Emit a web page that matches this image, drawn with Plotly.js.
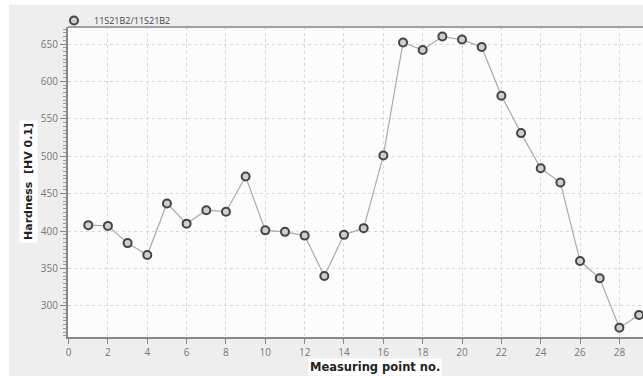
<!DOCTYPE html>
<html>
<head>
<meta charset="utf-8">
<script src="https://cdn.plot.ly/plotly-3.0.1.min.js"></script>
<style>html,body{margin:0;padding:0;background:#ffffff;}#chart{width:643px;height:376px;}</style>
</head>
<body>
<div id="chart"></div>
<script>
const seriesName = "11S21B2/11S21B2";
const measuringPoints = [1,2,3,4,5,6,7,8,9,10,11,12,13,14,15,16,17,18,19,20,21,22,23,24,25,26,27,28,29];
const hardness = [408,407,384,368,437,410,428,426,473,401,399,394,340,395,404,501,652,642,660,656,646,581,531,484,465,360,337,271,288];
const xTickVals = [0,2,4,6,8,10,12,14,16,18,20,22,24,26,28];
const yTickVals = [300,350,400,450,500,550,600,650];
const xTitle = "Measuring point no.";
const yTitle = "Hardness  [HV 0.1]";

const lineTrace = {
  x: measuringPoints,
  y: hardness,
  name: seriesName,
  type: 'scatter',
  mode: 'lines',
  line: {color: '#aaaaaa', width: 1.2},
  showlegend: false,
  legendgroup: 'g'
};
const markerTrace = {
  x: measuringPoints,
  y: hardness,
  name: seriesName,
  type: 'scatter',
  mode: 'markers',
  marker: {symbol: 'circle', size: 8, color: '#cfcfcf', line: {color: '#444444', width: 2}},
  showlegend: true,
  legendgroup: 'g'
};

const W = 575, H = 310; // plot area size in px
function px2x(p){ return (p - 68) / W; }
function py2y(p){ return (337 - p) / H; }

const layout = {
  width: 643, height: 376,
  margin: {l: 68, r: 0, t: 27, b: 39, pad: 0},
  paper_bgcolor: '#eeeeee',
  plot_bgcolor: '#fcfcfc',
  showlegend: true,
  legend: {
    x: px2x(54), y: py2y(6), xanchor: 'left', yanchor: 'top',
    bgcolor: 'rgba(0,0,0,0)', borderwidth: 0,
    font: {family: 'Open Sans, sans-serif', size: 9, color: '#444444'},
    itemwidth: 30
  },
  xaxis: {
    range: [-0.03, 29.2],
    tickvals: xTickVals,
    ticks: 'outside', ticklen: 5, tickcolor: '#888888', tickwidth: 1,
    showline: true, linecolor: '#888888', linewidth: 2,
    showgrid: true, gridcolor: '#d8d8d8', griddash: 'dot', gridwidth: 1,
    zeroline: false,
    tickfont: {family: 'Open Sans, sans-serif', size: 10, color: '#777777'}
  },
  yaxis: {
    range: [258.5, 672.8],
    tickvals: yTickVals,
    ticks: 'outside', ticklen: 6, tickcolor: '#888888', tickwidth: 1,
    minor: {dtick: 5, ticks: 'outside', ticklen: 3, tickcolor: '#999999', showgrid: false},
    showline: true, linecolor: '#888888', linewidth: 2,
    showgrid: true, gridcolor: '#d8d8d8', griddash: 'dot', gridwidth: 1,
    zeroline: false,
    tickfont: {family: 'Open Sans, sans-serif', size: 10, color: '#777777'}
  },
  shapes: [
    {type: 'rect', xref: 'paper', yref: 'paper', x0: px2x(0), x1: px2x(9), y0: py2y(376), y1: py2y(0), fillcolor: '#ffffff', line: {width: 0}, layer: 'below'},
    {type: 'rect', xref: 'paper', yref: 'paper', x0: px2x(0), x1: px2x(643), y0: py2y(5), y1: py2y(0), fillcolor: '#ffffff', line: {width: 0}, layer: 'below'},
    {type: 'line', xref: 'paper', yref: 'paper', x0: 0, x1: 1, y0: 1, y1: 1, line: {color: '#a0a0a0', width: 2}}
  ],
  annotations: [
    {text: '<b>' + yTitle + '</b>', textangle: -90, xref: 'paper', yref: 'paper',
     x: px2x(28), y: py2y(182), xanchor: 'center', yanchor: 'middle', showarrow: false,
     bgcolor: '#ffffff', borderpad: 2,
     font: {family: 'DejaVu Sans, sans-serif', size: 11, color: '#222222'}},
    {text: '<b>' + xTitle + '</b>', xref: 'paper', yref: 'paper',
     x: px2x(375), y: py2y(367), xanchor: 'center', yanchor: 'middle', showarrow: false,
     bgcolor: '#ffffff', borderpad: 1,
     font: {family: 'DejaVu Sans, sans-serif', size: 11.5, color: '#222222'}}
  ]
};

Plotly.newPlot('chart', [lineTrace, markerTrace], layout, {displayModeBar: false, staticPlot: true});
</script>
</body>
</html>
